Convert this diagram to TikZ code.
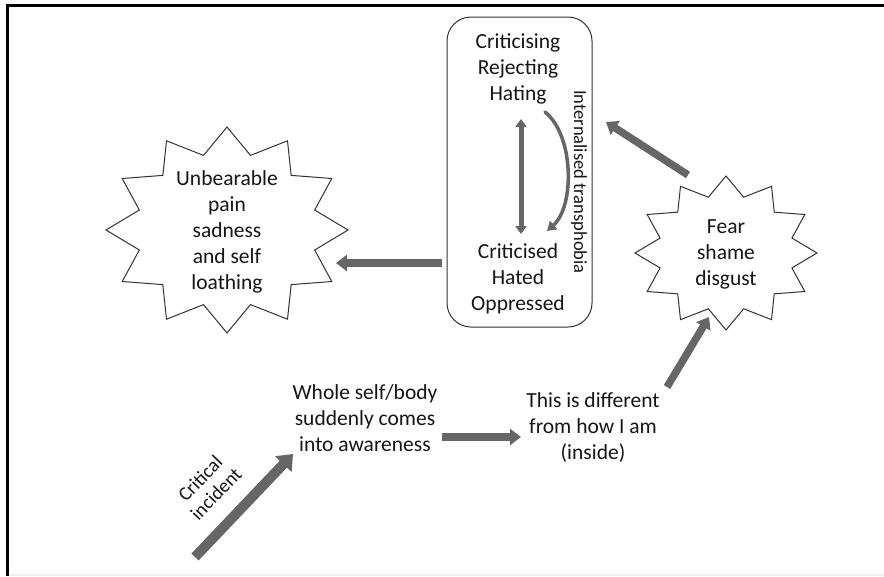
\documentclass[tikz,border=0pt]{standalone}
\usepackage{fontspec}
\setmainfont{Carlito}
\usetikzlibrary{arrows.meta}

\definecolor{inkcol}{HTML}{151515}
\definecolor{arrowcol}{HTML}{666666}
\definecolor{linecol}{HTML}{333333}

% 12-point burst: #1 centre, #2 horizontal radius, #3 vertical radius
\newcommand\twelvestar[3]{%
  \draw[burst, shift={#1}]
    plot[domain=0:23, samples=24]
      ({#2*(1-0.25*mod(round(\x),2))*cos(90+15*\x)},
       {#3*(1-0.25*mod(round(\x),2))*sin(90+15*\x)}) -- cycle;}

\begin{document}
\begin{tikzpicture}[x=1pt, y=-1pt,
  burst/.style={draw=linecol, line width=1pt, fill=white, line join=miter},
  lbl/.style={align=center, text=inkcol, inner sep=0pt,
    font=\fontsize{21.5}{26}\selectfont},
  small/.style={align=center, text=inkcol, inner sep=0pt,
    font=\fontsize{18.5}{21}\selectfont},
  fatarrow/.style={draw=arrowcol, line width=7.5pt,
    -{Triangle[width=16pt, length=11pt]}},
  bigarrow/.style={draw=arrowcol, line width=10pt,
    -{Triangle[width=22pt, length=14pt]}},
  twoway/.style={draw=arrowcol, line width=5pt,
    {Triangle[width=11pt, length=8pt]}-{Triangle[width=11pt, length=8pt]}},
  curvedarrow/.style={draw=arrowcol, line width=3.5pt, line cap=round,
    -{Triangle[width=11pt, length=9pt]}},
]
\useasboundingbox (0,0) rectangle (884,576);

% frame along the top and left edges, faint rule at the bottom
\draw[gray!12, line width=2pt] (7,575) -- (884,575);
\draw[black, line width=3pt] (7.3,576) -- (7.3,5.3) -- (884,5.3);

% rounded box holding the two poles
\node[draw=linecol, line width=1pt, rounded corners=24pt,
      minimum width=145pt, minimum height=310pt, inner sep=0pt]
      (box) at (519.5,172) {};
\node[lbl] (crit) at (518,69) {Criticising\\Rejecting\\Hating};
\node[lbl] (hated) at (518,279) {Criticised\\Hated\\Oppressed};
\node[small, rotate=-90] (transph) at (579,182) {Internalised transphobia};

\coordinate (dtop) at (521,119);
\coordinate (dbot) at (521,234);
\draw[twoway] (dtop) -- (dbot);
\coordinate (cstart) at (545,112);
\coordinate (cend) at (547,231);
\draw[curvedarrow] (cstart) .. controls (574,135) and (575,206) .. (cend);

% bursts
\twelvestar{(227,230)}{121}{103}
\node[lbl] (pain) at (227,232) {Unbearable\\pain\\sadness\\and self\\loathing};
\twelvestar{(726,253)}{91}{77}
\node[lbl] (fear) at (726,254) {Fear\\shame\\disgust};

% lower chain
\node[lbl] (whole) at (365,418) {Whole self/body\\suddenly comes\\into awareness};
\node[lbl] (diff) at (593,428) {This is different\\from how I am\\(inside)};

% connector end points
\coordinate (boxout) at (442,263);
\coordinate (painin) at (336,263);
\coordinate (fearout) at (688,175);
\coordinate (boxin) at (606,122);
\coordinate (diffout) at (667,387);
\coordinate (fearin) at (709,317);
\coordinate (wholeout) at (442,437);
\coordinate (diffin) at (521,437);
\coordinate (incstart) at (195,557);
\coordinate (wholein) at (293,454);

\draw[fatarrow] (boxout) -- (painin);
\draw[fatarrow] (fearout) -- (boxin);
\draw[fatarrow] (diffout) -- (fearin);
\draw[fatarrow] (wholeout) -- (diffin);
\draw[bigarrow] (incstart) -- (wholein);

\node[small, rotate=46, font=\fontsize{19.5}{22}\selectfont] (incident)
  at (208,486) {Critical\\incident};
\end{tikzpicture}
\end{document}
